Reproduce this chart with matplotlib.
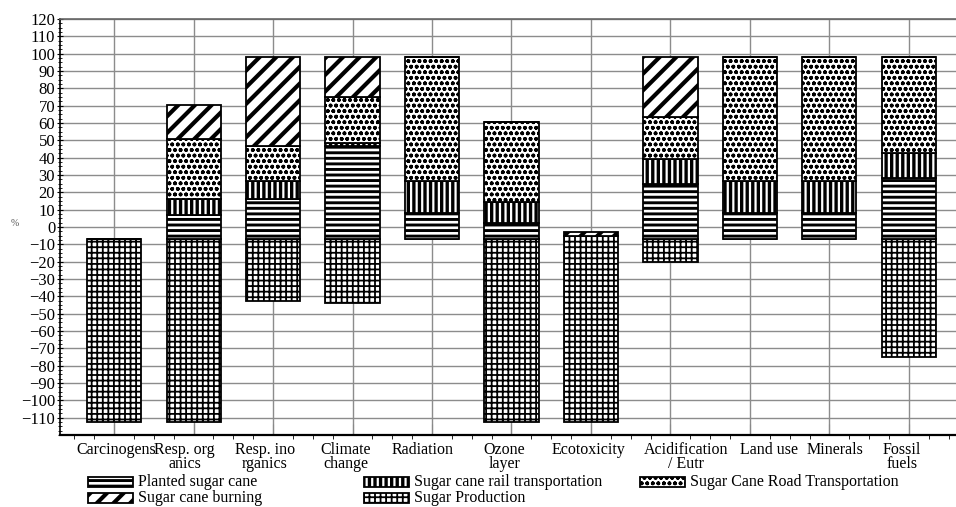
import matplotlib
matplotlib.use("Agg")
import matplotlib.pyplot as plt
from matplotlib.patches import Rectangle
from matplotlib.transforms import ScaledTranslation
from matplotlib.ticker import MultipleLocator

plt.rcParams["font.family"] = ["Liberation Serif", "DejaVu Serif"]

categories = ["Carcinogens", "Resp. org\nanics", "Resp. ino\nrganics", "Climate\nchange",
              "Radiation", "Ozone\nlayer", "Ecotoxicity", "Acidification\n/ Eutr",
              "Land use", "Minerals", "Fossil\nfuels"]

# lowest point of each stacked bar (%)
bar_start = [-112.3, -112.3, -42.5, -43.7, -6.7, -112.3, -112.3, -20.0, -6.7, -6.7, -75.2]

# segment sizes (%), stacked upward in this order
sugar_production = [105.6, 105.6, 35.8, 37.0, 0, 105.6, 107.0, 13.3, 0, 0, 68.5]
planted_cane = [0, 13.6, 22.7, 53.2, 14.6, 9.2, 0, 31.3, 15.0, 15.0, 34.8]
rail_transport = [0, 9.3, 10.5, 2.2, 18.6, 12.1, 0, 14.8, 18.2, 18.2, 14.8]
road_transport = [0, 34.4, 20.2, 26.5, 71.4, 46.0, 0, 24.2, 71.4, 71.4, 55.0]
cane_burning = [0, 20.0, 51.2, 22.7, 0, 0, 2.5, 34.3, 0, 0, 0]

# hatch pattern and hatch line width per series
styles = {
    "Sugar Production": ("+++", 1.3),
    "Planted sugar cane": ("---", 2.1),
    "Sugar cane rail transportation": ("|||", 2.4),
    "Sugar Cane Road Transportation": ("ooo", 1.15),
    "Sugar cane burning": ("//", 3.0),
}

series = [
    ("Sugar Production", sugar_production),
    ("Planted sugar cane", planted_cane),
    ("Sugar cane rail transportation", rail_transport),
    ("Sugar Cane Road Transportation", road_transport),
    ("Sugar cane burning", cane_burning),
]

# horizontal shift of each category label, in pixels
label_shift = [2, -9, -8, -7, -9, -7, -3, 16, 19, 6, -7]

fig = plt.figure(figsize=(9.56, 5.07), dpi=100)
ax = fig.add_axes([60 / 956, 72 / 507, 903 / 956, 416 / 507])

x = list(range(len(categories)))
bottom = list(bar_start)
for name, vals in series:
    hatch, hlw = styles[name]
    ax.bar(x, vals, width=0.68, bottom=bottom, color="white", edgecolor="black",
           linewidth=1.3, hatch=hatch, hatch_linewidth=hlw, zorder=3)
    bottom = [b + v for b, v in zip(bottom, vals)]

ax.set_xlim(-0.68, 10.68)
ax.set_ylim(-120, 120)
ax.set_yticks(range(-110, 121, 10))
ax.yaxis.set_minor_locator(MultipleLocator(2.5))
ax.set_xticks(x)
ax.set_xticklabels(categories, fontsize=11.5, linespacing=0.8)
ax.xaxis.set_minor_locator(MultipleLocator(0.25))

ax.tick_params(axis="y", which="major", direction="inout", length=5, width=0.8,
               labelsize=12, pad=1)
ax.tick_params(axis="y", which="minor", direction="inout", length=3, width=0.6)
ax.tick_params(axis="x", which="major", direction="in", length=8, width=0.8,
               color="#888888", pad=5)
ax.tick_params(axis="x", which="minor", direction="out", length=3, width=0.6)

for lbl, dx in zip(ax.get_xticklabels(), label_shift):
    lbl.set_transform(lbl.get_transform() + ScaledTranslation(dx / 100, 0, fig.dpi_scale_trans))

ax.grid(True, which="major", color="#8c8c8c", linewidth=1.0, zorder=0)
ax.set_axisbelow(True)

ax.spines["left"].set_linewidth(1.2)
ax.spines["bottom"].set_linewidth(1.6)
ax.spines["top"].set_color("#666666")
ax.spines["top"].set_linewidth(1.2)
ax.spines["right"].set_visible(False)

fig.text(15 / 956, 1 - 224 / 507, "%", fontsize=7, color="#555555", ha="center", va="center")

# legend drawn by hand in figure pixels
legend_items = [
    ("Planted sugar cane", 88, 482),
    ("Sugar cane burning", 88, 498),
    ("Sugar cane rail transportation", 364, 482),
    ("Sugar Production", 364, 498),
    ("Sugar Cane Road Transportation", 640, 482),
]
for name, px, py in legend_items:
    hatch, hlw = styles[name]
    fig.patches.append(Rectangle((px / 956, 1 - (py + 5) / 507), 45 / 956, 10 / 507,
                                 transform=fig.transFigure, facecolor="white",
                                 edgecolor="black", linewidth=1.3, hatch=hatch,
                                 hatch_linewidth=hlw))
    fig.text((px + 50) / 956, 1 - py / 507, name, fontsize=11.5, va="center", ha="left")

fig.savefig("out.png", dpi=100)
